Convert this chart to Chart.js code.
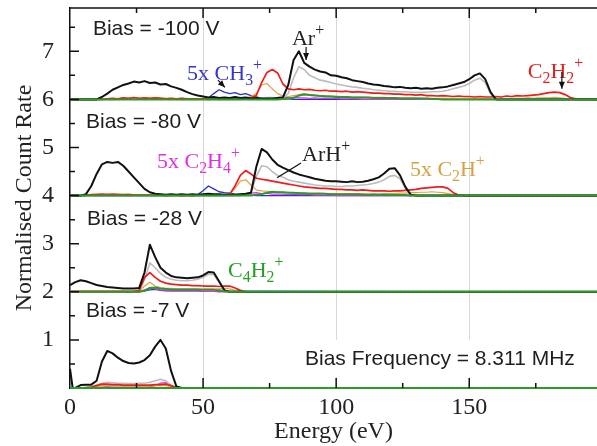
<!DOCTYPE html>
<html>
<head>
<meta charset="utf-8">
<script src="https://cdn.jsdelivr.net/npm/chart.js"></script>
<style>
  html, body { margin: 0; padding: 0; background: #fff; }
  #wrap { width: 597px; height: 446px; }
</style>
</head>
<body>
<div id="wrap"><canvas id="chart"></canvas></div>
<script>
// Energy grids (eV), one per bias panel
const energyA = [0,
  10,12,14,16,18, 20,22,24,26,28, 30,32,34,36,38, 40,42,44,46,48, 50,52,54,56,58, 60,62,64,66,68, 70,72,74,76,78, 80,82,84,86,88, 90,92,94,96,98,
  100,102,104,106,108, 110,112,114,116,118, 120,122,124,126,128, 130,132,134,136,138, 140,142,144,146,148, 150,152,154,156,158, 160,162,164,166,168, 170,172,174,176,178, 180,182,184,186,188,
  190, 198];
const energyB = [0, 4,6,8,
  10,12,14,16,18, 20,22,24,26,28, 30,32,34,36,38, 40,42,44,46,48, 50,52,54,56,58, 60,62,64,66,68, 70,72,74,76,78, 80,82,84,86,88, 90,92,94,96,98,
  100,102,104,106,108, 110,112,114,116,118, 120,122,124,126,128, 130,132,134,136,138, 140,142,144,146,148,
  198];
const energyC = [0,2,4,6,8, 10,12,14,16,18, 20,22,24,26,28, 30,32,34,36,38, 40,42,44,46,48, 50,52,54,56,58, 60,62,64,66, 198];
const energyD = [0,1, 2,4,6,8, 10,12,14,16,18, 20,22,24,26,28, 30,32,34,36,38, 40,42, 198];

// Panel offsets on the count-rate axis
const biasOffsets = [6, 4, 2, 0];

// Bias = -100 V
const blackA = [0,
  0,0.05,0.12,0.2,0.25, 0.3,0.33,0.37,0.35,0.38, 0.34,0.35,0.31,0.32,0.27, 0.24,0.2,0.15,0.11,0.08, 0.06,0.04,0.05,0.03,0.04, 0.03,0.05,0.03,0.04,0.02, 0.03,0.02,0.02,0.02,0.03, 0.04,0.3,0.82,1.0,0.76, 0.68,0.62,0.58,0.56,0.5,
  0.49,0.46,0.44,0.4,0.38, 0.36,0.33,0.31,0.3,0.28, 0.27,0.25,0.26,0.24,0.23, 0.24,0.22,0.23,0.22,0.24, 0.25,0.27,0.3,0.33,0.36, 0.42,0.5,0.54,0.42,0.15, 0,0,0,0,0, 0,0,0,0,0, 0,0,0,0,0,
  0, 0];
const grayA = [0,
  0,0,0,0,0, 0.01,0.01,0.02,0.01,0.01, 0.01,0.02,0.01,0.01,0.01, 0,0,0,0,0, 0,0,0,0,0, 0,0,0,0.01,0.01, 0.02,0.03,0.04,0.04,0.03, 0.03,0.12,0.45,0.68,0.62, 0.5,0.45,0.4,0.38,0.35,
  0.32,0.3,0.28,0.26,0.25, 0.23,0.22,0.2,0.19,0.18, 0.17,0.17,0.16,0.16,0.15, 0.15,0.15,0.15,0.16,0.16, 0.17,0.19,0.22,0.25,0.28, 0.33,0.4,0.44,0.35,0.12, 0,0,0,0,0, 0,0,0,0,0, 0,0,0,0,0,
  0, 0];
const redA = [0,
  0,0,0.01,0.02,0.01, 0.03,0.02,0.04,0.02,0.03, 0.02,0.03,0.02,0.01,0.02, 0.01,0.02,0.01,0.01,0.01, 0.01,0,0.01,0,0.01, 0.01,0.01,0.02,0.02,0.03, 0.08,0.35,0.56,0.62,0.55, 0.32,0.22,0.2,0.22,0.2, 0.21,0.19,0.18,0.19,0.17,
  0.17,0.16,0.17,0.15,0.16, 0.15,0.14,0.13,0.13,0.12, 0.12,0.11,0.11,0.1,0.1, 0.09,0.1,0.08,0.08,0.07, 0.08,0.07,0.06,0.07,0.06, 0.06,0.05,0.06,0.05,0.05, 0.06,0.05,0.07,0.06,0.08, 0.07,0.08,0.09,0.1,0.12, 0.14,0.15,0.14,0.1,0.04,
  0.01, 0];
const orangeA = [0,
  0,0,0.01,0.02,0.01, 0.03,0.02,0.03,0.02,0.03, 0.02,0.04,0.03,0.02,0.02, 0.01,0.02,0.01,0.01,0.01, 0,0,0,0.01,0, 0,0.01,0.02,0.03,0.06, 0.12,0.3,0.33,0.22,0.12, 0.07,0.06,0.08,0.1,0.12, 0.1,0.09,0.08,0.08,0.07,
  0.07,0.06,0.06,0.05,0.05, 0.05,0.04,0.04,0.04,0.04, 0.03,0.03,0.03,0.03,0.03, 0.03,0.02,0.02,0.02,0.02, 0.02,0.02,0.02,0.02,0.02, 0.02,0.02,0.02,0.02,0.01, 0.01,0.02,0.01,0.02,0.02, 0.02,0.03,0.02,0.03,0.03, 0.03,0.04,0.03,0.02,0.01,
  0, 0];
const blueA = [0,
  0,0,0,0,0, 0,0,0,0,0, 0,0,0,0,0, 0,0,0,0,0, 0.01,0.03,0.12,0.2,0.15, 0.12,0.14,0.1,0.12,0.08, 0.05,0.02,0.01,0.01,0.01, 0.01,0.01,0,0,0, 0,0,0,0,0,
  0,0,0,0,0, 0,0,0,0,0, 0,0,0,0,0, 0,0,0,0,0, 0,0,0,0,0, 0,0,0,0,0, 0,0,0,0,0, 0,0,0,0,0, 0,0,0,0,0,
  0.01, 0];
const magentaA = [0,
  0,0,0,0,0, 0,0,0,0,0, 0,0,0,0,0, 0,0,0,0,0, 0,0,0,0,0, 0,0,0,0,0, 0,0,0.01,0.02,0.04, 0.05,0.03,0.04,0.03,0.03, 0.02,0.03,0.02,0.02,0.02,
  0.02,0.01,0.01,0.01,0.01, 0,0,0,0,0, 0,0,0,0,0, 0,0,0,0,0, 0,0,0,0,0, 0,0,0,0,0, 0.01,0.01,0.01,0.01,0.01, 0.01,0.01,0.01,0,0, 0,0,0,0,0,
  0, 0];
const greenA = [0,
  0,0,0,0,0, 0,0,0,0,0, 0,0,0,0,0, 0,0,0,0,0, 0,0,0,0,0, 0,0,0,0,0, 0,0,0,0,0, 0.01,0.02,0.03,0.08,0.1, 0.09,0.08,0.07,0.06,0.06,
  0.05,0.05,0.05,0.04,0.04, 0.04,0.04,0.03,0.03,0.03, 0.03,0.03,0.02,0.02,0.02, 0.02,0.02,0.02,0.01,0.01, 0,0,0,0,0, 0,0,0,0,0, 0,0,0,0,0, 0,0,0,0,0, 0,0,0,0,0,
  0, 0];

// Bias = -80 V
const blackB = [0, 0,0.03,0.2,
  0.45,0.65,0.7,0.68,0.7, 0.62,0.5,0.38,0.26,0.14, 0.07,0.04,0.03,0.02,0.03, 0.02,0.03,0.02,0.03,0.02, 0.03,0.04,0.03,0.03,0.02, 0.02,0.02,0.03,0.04,0.06, 0.6,0.97,0.9,0.75,0.64, 0.58,0.53,0.48,0.44,0.41, 0.38,0.35,0.33,0.31,0.3,
  0.3,0.29,0.28,0.3,0.28, 0.29,0.31,0.34,0.38,0.46, 0.56,0.57,0.42,0.18,0.02, 0,0,0,0,0, 0,0,0,0,0,
  0];
const grayB = [0, 0,0,0,
  0.01,0.01,0.01,0.01,0.01, 0.01,0.01,0.01,0,0, 0,0,0,0,0, 0,0,0,0,0, 0,0,0,0,0, 0,0.01,0.02,0.03,0.06, 0.4,0.62,0.6,0.5,0.42, 0.38,0.33,0.3,0.28,0.26, 0.24,0.22,0.21,0.2,0.2,
  0.19,0.19,0.2,0.2,0.21, 0.22,0.23,0.25,0.28,0.33, 0.4,0.42,0.35,0.15,0.02, 0,0,0,0,0, 0,0,0,0,0,
  0];
const redB = [0, 0,0.01,0.02,
  0.02,0.03,0.02,0.03,0.02, 0.02,0.02,0.01,0.01,0.01, 0.01,0.01,0.01,0,0.01, 0.01,0,0.01,0,0.01, 0.01,0.01,0.01,0.01,0.02, 0.03,0.2,0.42,0.52,0.45, 0.36,0.34,0.32,0.3,0.28, 0.26,0.24,0.22,0.2,0.18, 0.17,0.16,0.15,0.15,0.14,
  0.13,0.13,0.12,0.12,0.11, 0.12,0.11,0.1,0.1,0.1, 0.09,0.1,0.1,0.11,0.12, 0.13,0.15,0.16,0.17,0.18, 0.18,0.15,0.06,0.01,0,
  0];
const orangeB = [0, 0,0.01,0.02,
  0.03,0.02,0.03,0.02,0.03, 0.02,0.03,0.02,0.01,0.01, 0.01,0,0.01,0,0, 0,0.01,0,0,0, 0,0,0,0,0.01, 0.02,0.15,0.3,0.33,0.22, 0.12,0.1,0.09,0.08,0.08, 0.07,0.07,0.06,0.06,0.05, 0.05,0.05,0.05,0.04,0.04,
  0.04,0.04,0.04,0.04,0.04, 0.04,0.03,0.04,0.03,0.04, 0.04,0.04,0.05,0.05,0.06, 0.06,0.07,0.07,0.08,0.07, 0.06,0.04,0.02,0,0,
  0];
const blueB = [0, 0,0,0,
  0,0,0,0,0, 0,0,0,0,0, 0,0,0,0,0, 0,0,0,0.01,0.02, 0.1,0.2,0.14,0.08,0.06, 0.05,0.03,0.02,0.01,0.01, 0,0,0,0,0, 0,0,0,0,0, 0,0,0,0,0,
  0,0,0,0,0, 0,0,0,0,0, 0,0,0,0,0, 0,0,0,0,0, 0,0,0,0,0,
  0];
const magentaB = [0, 0,0,0,
  0,0,0,0,0, 0,0,0,0,0, 0,0,0,0,0, 0,0,0,0,0, 0,0,0,0,0, 0,0,0,0.03,0.05, 0.06,0.04,0.05,0.03,0.03, 0.03,0.02,0.03,0.02,0.02, 0.02,0.01,0.01,0.01,0.01,
  0,0,0,0,0, 0,0,0,0,0, 0,0,0,0,0, 0,0,0,0,0, 0,0,0,0,0,
  0];
const greenB = [0, 0,0,0,
  0,0,0,0,0, 0,0,0,0,0, 0,0,0,0,0, 0,0,0,0,0, 0,0,0,0,0, 0,0,0,0,0, 0.02,0.03,0.06,0.08,0.07, 0.07,0.06,0.06,0.05,0.05, 0.04,0.04,0.04,0.04,0.03,
  0.03,0.03,0.03,0.03,0.03, 0.02,0.02,0.02,0.02,0.02, 0.01,0.01,0.01,0.01,0, 0,0,0,0,0, 0,0,0,0,0,
  0];

// Bias = -28 V
const blackC = [0.14,0.2,0.24,0.22,0.18, 0.14,0.12,0.1,0.09,0.08, 0.07,0.07,0.07,0.08,0.4, 0.98,0.72,0.5,0.4,0.33, 0.3,0.29,0.28,0.29,0.3, 0.34,0.41,0.4,0.22,0.03, 0,0,0,0, 0];
const grayC = [0.01,0.01,0.01,0.01,0.01, 0.01,0.01,0.01,0.01,0.01, 0.01,0.01,0.01,0.02,0.25, 0.6,0.5,0.38,0.3,0.26, 0.24,0.23,0.23,0.24,0.26, 0.3,0.36,0.36,0.2,0.03, 0,0,0,0, 0];
const redC = [0.01,0.01,0.01,0.01,0.01, 0.01,0.01,0.01,0.01,0.01, 0.01,0.01,0.01,0.03,0.3, 0.4,0.3,0.22,0.18,0.16, 0.15,0.14,0.14,0.13,0.13, 0.12,0.12,0.12,0.11,0.12, 0.12,0.08,0.03,0, 0];
const orangeC = [0,0,0,0,0, 0,0,0,0,0, 0,0,0,0.01,0.12, 0.2,0.12,0.09,0.07,0.07, 0.06,0.06,0.06,0.06,0.06, 0.06,0.06,0.06,0.06,0.07, 0.06,0.03,0.01,0, 0];
const blueC = [0,0,0,0,0, 0,0,0,0,0, 0,0,0,0,0.02, 0.04,0.05,0.03,0.02,0.02, 0.02,0.02,0.02,0.02,0.02, 0.01,0.01,0.01,0.01,0.01, 0.01,0.01,0.01,0.01, 0];
const magentaC = [0,0,0,0,0, 0,0,0,0,0, 0,0,0,0,0.04, 0.08,0.06,0.04,0.03,0.02, 0.02,0.02,0.02,0.02,0.02, 0.01,0.01,0.01,0,0, 0,0,0,0, 0];
const greenC = [0,0,0,0,0, 0,0,0,0,0, 0,0,0,0,0.02, 0.08,0.09,0.07,0.06,0.05, 0.05,0.05,0.05,0.05,0.05, 0.04,0.04,0.04,0.03,0.01, 0,0,0,0, 0];

// Bias = -7 V
const blackD = [0.4,0, 0,0.06,0.07,0.07, 0.15,0.55,0.77,0.72,0.63, 0.56,0.52,0.51,0.53,0.58, 0.68,0.86,1.0,0.82,0.35, 0.03,0, 0];
const grayD = [0,0, 0,0,0.01,0.02, 0.06,0.1,0.12,0.11,0.1, 0.1,0.09,0.09,0.1,0.1, 0.12,0.15,0.18,0.15,0.05, 0,0, 0];
const redD = [0,0, 0,0,0.01,0.02, 0.05,0.08,0.08,0.07,0.07, 0.06,0.06,0.06,0.06,0.06, 0.06,0.07,0.07,0.08,0.05, 0.01,0, 0];
const orangeD = [0,0, 0,0,0,0.01, 0.03,0.05,0.05,0.05,0.05, 0.04,0.04,0.04,0.04,0.04, 0.04,0.05,0.05,0.05,0.03, 0,0, 0];
const blueD = [0,0, 0,0,0,0, 0,0,0,0,0, 0,0,0,0,0, 0,0,0,0,0, 0,0, 0];
const magentaD = [0,0, 0,0,0,0, 0,0.02,0.03,0.02,0.02, 0.02,0.02,0.02,0.02,0.02, 0.03,0.05,0.1,0.11,0.05, 0,0, 0];
const greenD = [0,0, 0,0,0,0, 0,0,0,0,0, 0,0,0,0,0, 0,0,0,0,0, 0,0, 0];

// Axis ticks
const xTickLabels = [0, 50, 100, 150];
const yTickLabels = [0, 1, 2, 3, 4, 5, 6, 7];
const xTickMajor = [50, 100, 150];
const xTickMinor = [25, 75, 125, 175];
const yTickMajor = [1, 2, 3, 4, 5, 6, 7];
const yTickMinor = [0.5, 1.5, 2.5, 3.5, 4.5, 5.5, 6.5, 7.5];

// Text annotations (positions in data units: energy, count rate)
const biasLabels = ['Bias = -100 V', 'Bias = -80 V', 'Bias = -28 V', 'Bias = -7 V'];
const biasLabelAt = [[8.6, 7.34], [6, 5.4], [6.4, 3.39], [6, 1.48]];
const freqLabel = 'Bias Frequency = 8.311 MHz';
const freqLabelAt = [88.3, 0.48];

const COLORS = {
  black: '#111111',
  gray: '#bcbcbc',
  red: '#ee1c1c',
  orange: '#e0a048',
  magenta: '#e033e0',
  blue: '#2233cc',
  green: '#2a9a2a'
};

const speciesLabels = [
  { parts: [['5x CH'], ['3', 'sub'], ['+', 'sup']], at: [44, 6.4], color: '#3535cc' },
  { parts: [['Ar'], ['+', 'sup']], at: [83.4, 7.13], color: '#222' },
  { parts: [['C'], ['2', 'sub'], ['H'], ['2', 'sub'], ['+', 'sup']], at: [172, 6.44], color: '#e02222' },
  { parts: [['5x C'], ['2', 'sub'], ['H'], ['4', 'sub'], ['+', 'sup']], at: [32.7, 4.57], color: '#dd33dd' },
  { parts: [['ArH'], ['+', 'sup']], at: [87.2, 4.72], color: '#222' },
  { parts: [['5x C'], ['2', 'sub'], ['H'], ['+', 'sup']], at: [127.7, 4.41], color: '#d9a040' },
  { parts: [['C'], ['4', 'sub'], ['H'], ['2', 'sub'], ['+', 'sup']], at: [59.4, 2.31], color: '#22a022' }
];
// pointer lines: [fromE, fromV, toE, toV, withHead]
const pointers = [
  [88.7, 7.09, 88.7, 6.82, true],
  [184.8, 6.57, 184.8, 6.22, true],
  [55.6, 6.4, 58.2, 6.25, true],
  [86.8, 4.68, 77.8, 4.37, false]
];

const panelEnergy = [energyA, energyB, energyC, energyD];
const blackSeries = [blackA, blackB, blackC, blackD];
const graySeries = [grayA, grayB, grayC, grayD];
const redSeries = [redA, redB, redC, redD];
const orangeSeries = [orangeA, orangeB, orangeC, orangeD];
const blueSeries = [blueA, blueB, blueC, blueD];
const magentaSeries = [magentaA, magentaB, magentaC, magentaD];
const greenSeries = [greenA, greenB, greenC, greenD];

// first layer is drawn on top
const layers = [
  ['green', greenSeries, 2],
  ['black', blackSeries, 2],
  ['red', redSeries, 1.7],
  ['gray', graySeries, 1.6],
  ['orange', orangeSeries, 1.2],
  ['magenta', magentaSeries, 1.2],
  ['blue', blueSeries, 1.3]
];

const datasets = [];
layers.forEach(([name, series, width]) => {
  series.forEach((values, p) => {
    datasets.push({
      label: name + ' ' + biasLabels[p],
      data: panelEnergy[p].map((e, i) => ({ x: e, y: values[i] + biasOffsets[p] })),
      borderColor: COLORS[name],
      borderWidth: width,
      borderJoinStyle: 'round',
      pointRadius: 0,
      fill: false,
      tension: 0,
      clip: false
    });
  });
});

function drawChem(ctx, x, y, parts, color, size) {
  ctx.fillStyle = color;
  ctx.textAlign = 'left';
  ctx.textBaseline = 'alphabetic';
  let cx = x;
  parts.forEach(([t, mode]) => {
    const s = mode ? size * 0.72 : size;
    ctx.font = s + 'px "Liberation Serif"';
    const dy = mode === 'sub' ? size * 0.22 : (mode === 'sup' ? -size * 0.45 : 0);
    ctx.fillText(t, cx, y + dy);
    cx += ctx.measureText(t).width;
  });
}

function drawPointer(ctx, x1, y1, x2, y2, head) {
  ctx.strokeStyle = '#111';
  ctx.fillStyle = '#111';
  ctx.lineWidth = 1.2;
  ctx.beginPath();
  ctx.moveTo(x1, y1);
  ctx.lineTo(x2, y2);
  ctx.stroke();
  if (head) {
    const a = Math.atan2(y2 - y1, x2 - x1);
    const L = 7, W = 3;
    ctx.beginPath();
    ctx.moveTo(x2, y2);
    ctx.lineTo(x2 - L * Math.cos(a) + W * Math.sin(a), y2 - L * Math.sin(a) - W * Math.cos(a));
    ctx.lineTo(x2 - L * Math.cos(a) - W * Math.sin(a), y2 - L * Math.sin(a) + W * Math.cos(a));
    ctx.closePath();
    ctx.fill();
  }
}

const decorations = {
  id: 'decorations',
  beforeDatasetsDraw(chart) {
    // white patch behind the frequency label hides the grid lines
    const ctx = chart.ctx, xs = chart.scales.x, ys = chart.scales.y;
    ctx.save();
    ctx.font = '21px "Liberation Sans"';
    const w = ctx.measureText(freqLabel).width;
    const x = xs.getPixelForValue(freqLabelAt[0]);
    const y = ys.getPixelForValue(freqLabelAt[1]);
    ctx.fillStyle = '#fff';
    ctx.fillRect(x - 6, y - 25, w + 12, 37);
    ctx.restore();
  },
  afterDraw(chart) {
    const ctx = chart.ctx, xs = chart.scales.x, ys = chart.scales.y;
    const { left, right, top, bottom } = chart.chartArea;
    ctx.save();

    // top frame and inward ticks
    ctx.strokeStyle = '#111';
    ctx.lineWidth = 1.5;
    ctx.beginPath();
    ctx.moveTo(left, top);
    ctx.lineTo(right, top);
    const xt = (vals, len) => vals.forEach(v => {
      const px = xs.getPixelForValue(v);
      ctx.moveTo(px, bottom); ctx.lineTo(px, bottom - len);
      ctx.moveTo(px, top); ctx.lineTo(px, top + len);
    });
    const yt = (vals, len) => vals.forEach(v => {
      const py = ys.getPixelForValue(v);
      ctx.moveTo(left, py); ctx.lineTo(left + len, py);
    });
    xt(xTickMajor, 10); xt(xTickMinor, 5);
    yt(yTickMajor, 9); yt(yTickMinor, 5);
    ctx.stroke();

    // bias labels
    ctx.fillStyle = '#1e1e1e';
    ctx.font = '21px "Liberation Sans"';
    ctx.textAlign = 'left';
    ctx.textBaseline = 'alphabetic';
    biasLabels.forEach((t, i) => {
      ctx.fillText(t, xs.getPixelForValue(biasLabelAt[i][0]), ys.getPixelForValue(biasLabelAt[i][1]));
    });
    ctx.fillText(freqLabel, xs.getPixelForValue(freqLabelAt[0]), ys.getPixelForValue(freqLabelAt[1]));

    // species labels
    speciesLabels.forEach(l => {
      drawChem(ctx, xs.getPixelForValue(l.at[0]), ys.getPixelForValue(l.at[1]), l.parts, l.color, 22);
    });
    pointers.forEach(([e1, v1, e2, v2, head]) => {
      drawPointer(ctx, xs.getPixelForValue(e1), ys.getPixelForValue(v1),
        xs.getPixelForValue(e2), ys.getPixelForValue(v2), head);
    });
    ctx.restore();
  }
};

const serifTicks = { family: '"Liberation Serif", serif', size: 24 };
const serifTitle = { family: '"Liberation Serif", serif', size: 24 };

new Chart(document.getElementById('chart'), {
  type: 'line',
  data: { datasets },
  options: {
    responsive: true,
    maintainAspectRatio: false,
    animation: false,
    devicePixelRatio: 1,
    layout: { padding: { top: 8, right: 0, bottom: 0, left: 0 } },
    plugins: { legend: { display: false }, tooltip: { enabled: false } },
    scales: {
      x: {
        type: 'linear',
        min: 0,
        max: 198,
        afterBuildTicks: s => { s.ticks = xTickLabels.map(v => ({ value: v })); },
        ticks: { autoSkip: false, maxRotation: 0, color: '#222', font: serifTicks, padding: 5 },
        grid: {
          drawTicks: false,
          lineWidth: 1,
          color: c => (c.tick && c.tick.value === 0) ? 'rgba(0,0,0,0)' : '#d8d8d8'
        },
        border: { color: '#111', width: 1.5 },
        title: { display: true, text: 'Energy (eV)', color: '#222', font: serifTitle, padding: { top: 0, bottom: 0 } },
        afterFit: s => { s.height = 58; s.paddingLeft = 0; s.paddingRight = 0; }
      },
      y: {
        min: 0,
        max: 7.9,
        afterBuildTicks: s => { s.ticks = yTickLabels.map(v => ({ value: v })); },
        ticks: {
          autoSkip: false,
          color: '#222',
          font: serifTicks,
          padding: 8,
          callback: v => v === 0 ? '' : v
        },
        grid: { display: false },
        border: { color: '#111', width: 1.5 },
        title: { display: true, text: 'Normalised Count Rate', color: '#222', font: serifTitle, padding: { top: 10, bottom: 0 } },
        afterFit: s => { s.width = 70; s.paddingTop = 0; s.paddingBottom = 0; }
      }
    }
  },
  plugins: [decorations]
});
</script>
</body>
</html>
